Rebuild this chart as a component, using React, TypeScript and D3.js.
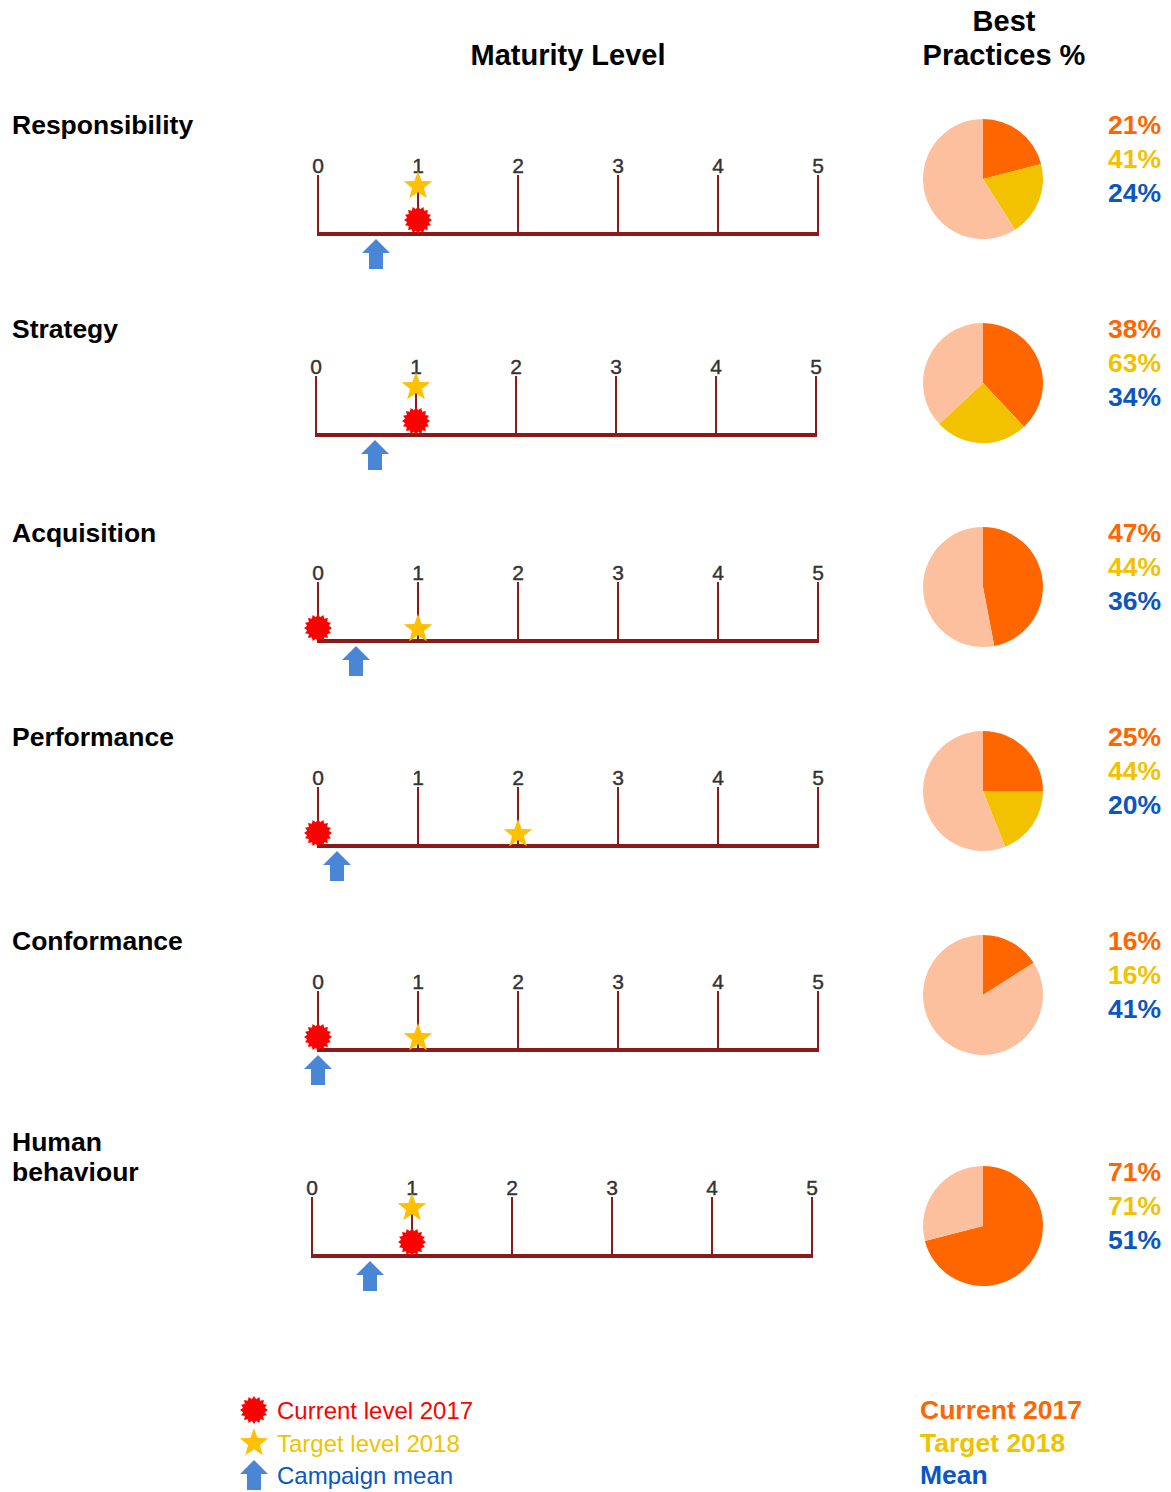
import React from "react";
import * as d3 from "d3";

const categories = ["Responsibility", "Strategy", "Acquisition", "Performance", "Conformance", "Human behaviour"];
const currentLevel = [1, 1, 0, 0, 0, 1];
const targetLevel = [1, 1, 1, 2, 1, 1];
const campaignMean = [0.58, 0.59, 0.38, 0.19, 0.0, 0.58];
const bpCurrent = [21, 38, 47, 25, 16, 71];
const bpTarget = [41, 63, 44, 44, 16, 71];
const bpMean = [24, 34, 36, 20, 41, 51];
const levelTicks = [0, 1, 2, 3, 4, 5];

// layout
const labelY = [125, 329, 533, 737, 941, 1142];
const blockY = [125, 329, 533, 737, 941, 1172];
const baseY = [234, 435, 641, 846, 1050, 1256];
const scaleX0 = [318, 316, 318, 318, 318, 312];
const pieYOff = 54;
const FONT = "'Liberation Sans', Arial, sans-serif";
const C_ORANGE = "#FF6600";
const C_YELLOW = "#F2C200";
const C_BLUE = "#0A56C2";
const C_LIGHT = "#FDC09F";
const C_AXIS = "#8B1A1A";

function burstPath(r1: number, r2: number, n: number) {
  const pts: [number, number][] = [];
  for (let i = 0; i < n * 2; i++) {
    const a = (Math.PI * i) / n;
    const r = i % 2 === 0 ? r1 : r2;
    pts.push([Math.sin(a) * r, -Math.cos(a) * r]);
  }
  return d3.line()(pts)! + "Z";
}
function starPath(r1: number, r2: number) {
  const pts: [number, number][] = [];
  for (let i = 0; i < 10; i++) {
    const a = (Math.PI * i) / 5;
    const r = i % 2 === 0 ? r1 : r2;
    pts.push([Math.sin(a) * r, -Math.cos(a) * r]);
  }
  return d3.line()(pts)! + "Z";
}
function arrowPath(hw: number, sw: number, h: number, hh: number) {
  const pts: [number, number][] = [
    [0, 0], [hw / 2, hh], [sw / 2, hh], [sw / 2, h], [-sw / 2, h], [-sw / 2, hh], [-hw / 2, hh],
  ];
  return d3.line()(pts)! + "Z";
}

const BURST = burstPath(14, 11, 16);
const STAR = starPath(15, 6.2);
const ARROW = arrowPath(28, 14, 30, 14);

function Burst({ x, y }: { x: number; y: number }) {
  return <path d={BURST} transform={`translate(${x},${y})`} fill="#FF0000" />;
}
function Star({ x, y }: { x: number; y: number }) {
  return <path d={STAR} transform={`translate(${x},${y})`} fill="#FFC000" />;
}
function Arrow({ x, y }: { x: number; y: number }) {
  return <path d={ARROW} transform={`translate(${x},${y})`} fill="#4A86D6" />;
}

function Row({ i }: { i: number }) {
  const x = d3.scaleLinear().domain([0, 5]).range([scaleX0[i], scaleX0[i] + 500]);
  const by = baseY[i];
  const cur = currentLevel[i];
  const tgt = targetLevel[i];
  const same = cur === tgt;
  const pie = d3.pie<number>().sort(null);
  const c = bpCurrent[i];
  const t = bpTarget[i];
  const vals = [c, Math.max(t - c, 0), 100 - Math.max(c, t)];
  const arcs = pie(vals);
  const arc = d3.arc<d3.PieArcDatum<number>>().innerRadius(0).outerRadius(60);
  const pieColors = [C_ORANGE, C_YELLOW, C_LIGHT];
  const cy = blockY[i] + pieYOff;
  const words = categories[i].split(" ");
  return (
    <g>
      <text x={12} y={labelY[i]} dy="0.33em" fontFamily={FONT} fontWeight="bold" fontSize={26.5} fill="#000">
        {words.length > 1 && i === 5
          ? words.map((w, k) => (
              <tspan key={k} x={12} dy={k === 0 ? "0.33em" : 30}>{w}</tspan>
            ))
          : categories[i]}
      </text>
      {levelTicks.map((v) => (
        <g key={v}>
          <line x1={x(v)} x2={x(v)} y1={by - 59} y2={by} stroke={C_AXIS} strokeWidth={2} />
          <text x={x(v)} y={by - 68} textAnchor="middle" dy="0.33em" fontFamily={FONT} fontSize={21} fill="#333" stroke="#333" strokeWidth={0.4}>
            {v}
          </text>
        </g>
      ))}
      <line x1={x(0) - 1} x2={x(5) + 1} y1={by} y2={by} stroke={C_AXIS} strokeWidth={4} />
      {same ? (
        <>
          <Burst x={x(cur)} y={by - 14} />
          <Star x={x(tgt)} y={by - 48} />
        </>
      ) : (
        <>
          <Burst x={x(cur)} y={by - 13} />
          <Star x={x(tgt)} y={by - 12} />
        </>
      )}
      <Arrow x={x(campaignMean[i])} y={by + 5} />
      <g transform={`translate(983,${cy})`}>
        {arcs.map((a, k) => (
          a.value > 0 ? <path key={k} d={arc(a)!} fill={pieColors[k]} /> : null
        ))}
      </g>
      {[
        [bpCurrent[i], C_ORANGE],
        [bpTarget[i], C_YELLOW],
        [bpMean[i], C_BLUE],
      ].map(([v, col], k) => (
        <text key={k} x={1161} y={blockY[i] + k * 34} dy="0.33em" textAnchor="end" fontFamily={FONT} fontWeight="bold" fontSize={26.5} fill={col as string}>
          {v}%
        </text>
      ))}
    </g>
  );
}

export default function App() {
  return (
    <div style={{ position: "absolute", left: 0, top: 0 }}>
      <svg width={1171} height={1492} style={{ display: "block", background: "#fff" }}>
        <text x={568} y={55} dy="0.33em" textAnchor="middle" fontFamily={FONT} fontWeight="bold" fontSize={29}>Maturity Level</text>
        <text x={1004} y={21} dy="0.33em" textAnchor="middle" fontFamily={FONT} fontWeight="bold" fontSize={29}>Best</text>
        <text x={1004} y={55} dy="0.33em" textAnchor="middle" fontFamily={FONT} fontWeight="bold" fontSize={29}>Practices %</text>
        {categories.map((_, i) => <Row key={i} i={i} />)}
        <Burst x={254} y={1410} />
        <text x={277} y={1411} dy="0.33em" fontFamily={FONT} fontSize={24} fill="#FF0000">Current level 2017</text>
        <Star x={254} y={1443} />
        <text x={277} y={1444} dy="0.33em" fontFamily={FONT} fontSize={24} fill="#F2C200">Target level 2018</text>
        <Arrow x={254} y={1460} />
        <text x={277} y={1476} dy="0.33em" fontFamily={FONT} fontSize={24} fill={C_BLUE}>Campaign mean</text>
        <text x={920} y={1410} dy="0.33em" fontFamily={FONT} fontWeight="bold" fontSize={26.5} fill={C_ORANGE}>Current 2017</text>
        <text x={920} y={1443} dy="0.33em" fontFamily={FONT} fontWeight="bold" fontSize={26.5} fill={C_YELLOW}>Target 2018</text>
        <text x={920} y={1475} dy="0.33em" fontFamily={FONT} fontWeight="bold" fontSize={26.5} fill={C_BLUE}>Mean</text>
      </svg>
    </div>
  );
}
